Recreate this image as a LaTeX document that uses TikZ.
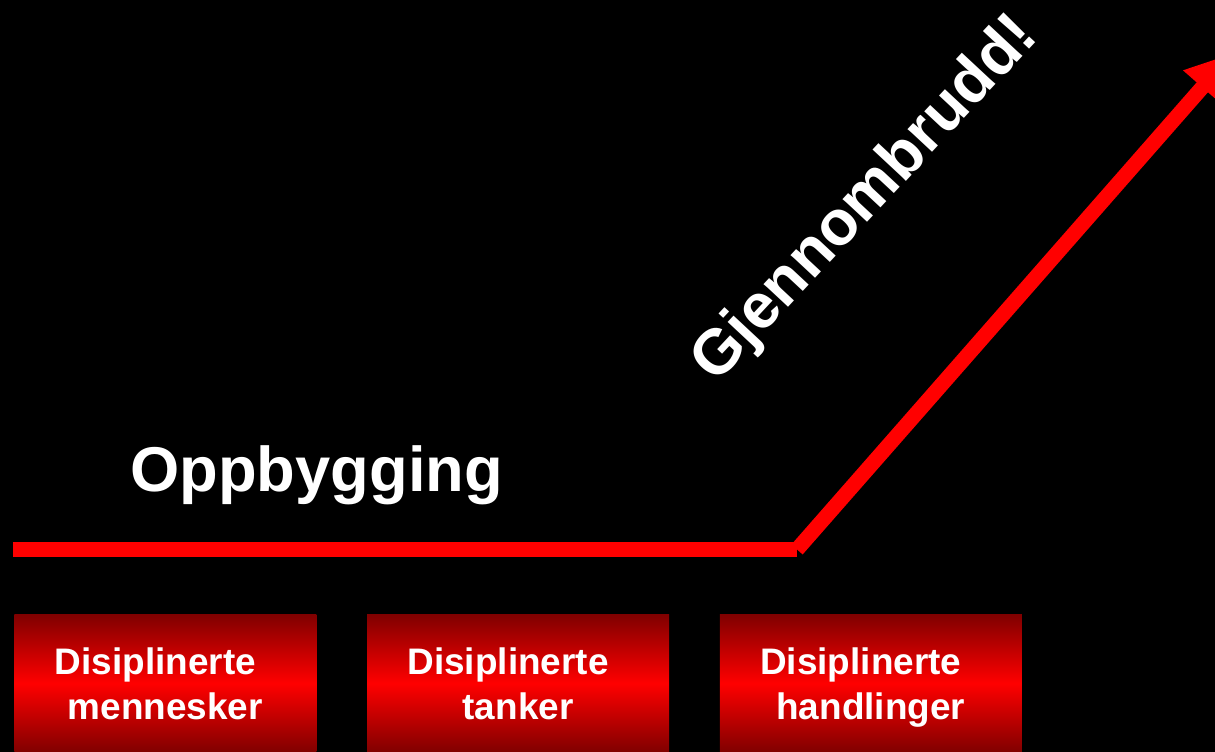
\documentclass[tikz,border=0pt]{standalone}
\usepackage{fontspec}
\setmainfont{Liberation Sans}
\usetikzlibrary{arrows.meta,positioning}

\begin{document}
\begin{tikzpicture}[
		auto,
		node distance=1cm,
		>={Triangle[length=0.9cm,width=0.96cm]},
		font=\bfseries,
		block/.style={
			rectangle,
			inner sep=0pt,
			minimum width=6.04cm,
			minimum height=2.76cm,
			top color=red!50!black,
			bottom color=red!50!black,
			middle color=red,
			text=white,
			align=center,
			text depth=-0.1cm,
			font=\bfseries\fontsize{21}{25.5}\selectfont
		},
		title/.style={
			text=white,
			inner sep=0pt,
			font=\bfseries\fontsize{36}{40}\selectfont
		},
		trend/.style={
			draw=red,
			line width=0.3cm
		}
		]
		\useasboundingbox (0,0) rectangle (24.3,15.04);
		\fill[black] (0,0) rectangle (24.3,15.04);
		\clip (0,0) rectangle (24.3,15.04);
		
		% We start by placing the blocks
		\node [block, anchor=north west] (people) at (0.28,2.76)
		{Disiplinerte\hspace*{0.4cm}\\mennesker};
		\node [block, right=of people] (thoughts)
		{Disiplinerte\hspace*{0.4cm}\\tanker};
		\node [block, right=of thoughts] (actions)
		{Disiplinerte\hspace*{0.4cm}\\handlinger};
		
		% the curve
		\coordinate (start) at (0.26,4.05);
		\coordinate (bend) at (15.94,4.05);
		\coordinate (tip) at (24.64,13.97);
		\draw [trend] (start) -- (bend);
		\draw [trend,->] (bend) -- (tip);
		
		\node [title, anchor=base west] (buildup) at (2.6,5.2) {Oppbygging};
		\node [title, rotate=47] (breakthrough) at (17.32,11.04) {Gjennombrudd!};
		
\end{tikzpicture}
\end{document}
